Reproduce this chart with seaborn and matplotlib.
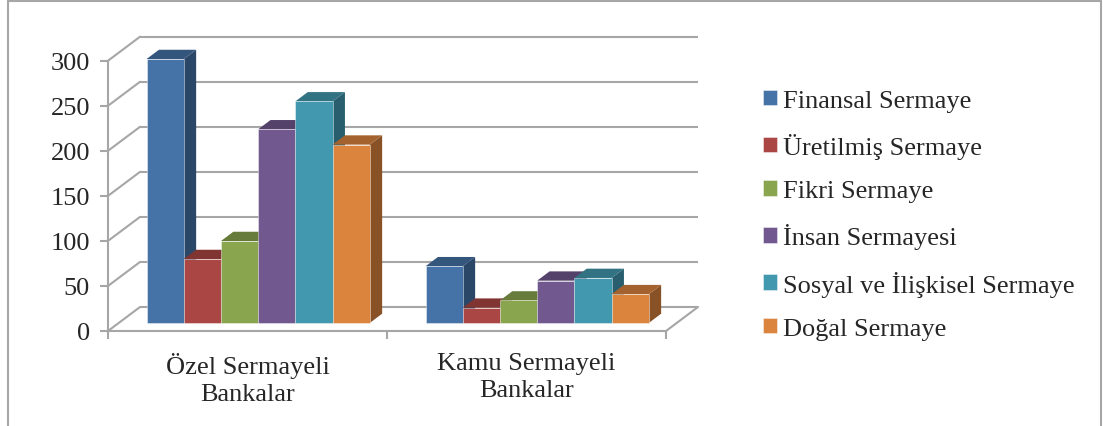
import numpy as np
import pandas as pd
import seaborn as sns
import matplotlib.pyplot as plt
from matplotlib.patches import Polygon
from matplotlib.lines import Line2D
import matplotlib.colors as mcolors

# veri
bankalar = ["Özel Sermayeli\nBankalar", "Kamu Sermayeli\nBankalar"]
sermayeler = ["Finansal Sermaye", "Üretilmiş Sermaye", "Fikri Sermaye",
              "İnsan Sermayesi", "Sosyal ve İlişkisel Sermaye", "Doğal Sermaye"]
ozel = [293, 71, 91, 215, 246, 198]
kamu = [63, 17, 25, 47, 50, 32]
renkler = ["#4572A7", "#AA4643", "#89A54E", "#71588F", "#4198AF", "#DB843D"]
yticks = [0, 50, 100, 150, 200, 250, 300]

df = pd.DataFrame({
    "banka": [bankalar[0]] * len(ozel) + [bankalar[1]] * len(kamu),
    "sermaye": sermayeler * 2,
    "deger": ozel + kamu,
})

sns.set_style("white")
plt.rcParams['font.family'] = ['Liberation Serif', 'DejaVu Serif']

W, H = 1103, 427
GRI = "#A6A6A6"
FS = 19
fig = plt.figure(figsize=(W / 100, H / 100), dpi=100)
ax = fig.add_axes([108 / W, 95 / H, 558 / W, 300 / H])

sns.barplot(data=df, x="banka", y="deger", hue="sermaye", hue_order=sermayeler,
            palette=renkler, saturation=1, width=0.8, ax=ax,
            edgecolor=(1, 1, 1, 0.5), linewidth=0.6)
handles, labels = ax.get_legend_handles_labels()
ax.get_legend().remove()

ax.set_xlim(-0.5, 1.5)
ax.set_ylim(0, 333)

# derinlik kaymasi (piksel -> veri birimi)
p = ax.transData.transform([(0, 0), (1, 1)])
sx, sy = p[1] - p[0]
DX, DY = 32 / sx, 24 / sy

# arka duvar ve zemin
for v in yticks:
    ax.plot([-0.5 + DX, 1.5 + DX], [v + DY, v + DY], color=GRI, lw=1.5,
            clip_on=False, zorder=0.5, solid_capstyle="butt")
    ax.plot([-0.5, -0.5 + DX], [v, v + DY], color=GRI, lw=1.5,
            clip_on=False, zorder=0.5)
ax.plot([1.5, 1.5 + DX], [0, DY], color=GRI, lw=1.5, clip_on=False, zorder=0.5)

# 3B cubuklar
bars = [b for cont in ax.containers for b in cont]
bars.sort(key=lambda b: b.get_x())
f0, f1 = 1 / 3, 0.72
ddx, ddy = (f1 - f0) * DX, (f1 - f0) * DY
for i, b in enumerate(bars):
    x0 = b.get_x() + f0 * DX
    y0 = f0 * DY
    w, h = b.get_width(), b.get_height()
    b.set_x(x0)
    b.set_y(y0)
    c = np.array(mcolors.to_rgb(b.get_facecolor()))
    z = 2 + i * 0.01
    b.set_zorder(z + 0.005)
    b.set_clip_on(False)
    side = Polygon([(x0 + w, y0), (x0 + w + ddx, y0 + ddy),
                    (x0 + w + ddx, y0 + h + ddy), (x0 + w, y0 + h)],
                   closed=True, facecolor=c * 0.62, edgecolor="none",
                   zorder=z, clip_on=False)
    top = Polygon([(x0, y0 + h), (x0 + w, y0 + h),
                   (x0 + w + ddx, y0 + h + ddy), (x0 + ddx, y0 + h + ddy)],
                  closed=True, facecolor=c * 0.75, edgecolor="none",
                  zorder=z, clip_on=False)
    ax.add_patch(side)
    ax.add_patch(top)

# eksenler
sns.despine(ax=ax, top=True, right=True)
ax.spines["left"].set_bounds(0, 300)
for s in ["left", "bottom"]:
    ax.spines[s].set_color(GRI)
    ax.spines[s].set_linewidth(1.5)
    ax.spines[s].set_zorder(0.6)
ax.set_yticks(yticks)
ax.tick_params(axis="y", direction="out", length=6, width=1.5, color=GRI,
               labelsize=FS, pad=7, left=True)
ax.set_xticks([0, 1])
ax.set_xticks([-0.5, 0.5, 1.5], minor=True)
ax.tick_params(axis="x", which="major", length=0, labelsize=FS, pad=15)
ax.tick_params(axis="x", which="minor", direction="out", length=6, width=1.5,
               color=GRI, bottom=True)
for t in ax.get_xticklabels():
    t.set_linespacing(1.3)
ax.set_xlabel("")
ax.set_ylabel("")
ax.set_facecolor("none")

fig.legend(handles, labels, loc="upper left", bbox_to_anchor=(763 / W, 1 - 91 / H),
           frameon=False, fontsize=FS, handlelength=0.52, handleheight=0.52,
           handletextpad=0.22, labelspacing=0.8, borderpad=0, borderaxespad=0)

# dis cerceve
fig.add_artist(Line2D([8 / W, 8 / W], [0, 1 - 1.5 / H], transform=fig.transFigure,
                      color=GRI, lw=1.5))
fig.add_artist(Line2D([8 / W, 1101 / W], [1 - 1.5 / H, 1 - 1.5 / H],
                      transform=fig.transFigure, color=GRI, lw=1.5))
fig.add_artist(Line2D([1101 / W, 1101 / W], [0, 1 - 1.5 / H],
                      transform=fig.transFigure, color=GRI, lw=1.5))

fig.savefig("out.png", dpi=100)
